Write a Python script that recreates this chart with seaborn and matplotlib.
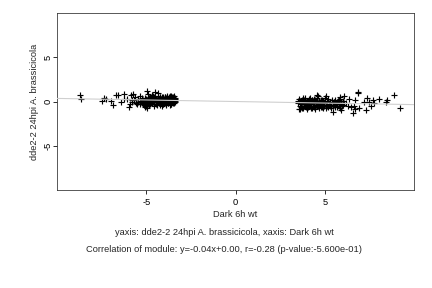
import matplotlib
matplotlib.use("Agg")
import matplotlib.pyplot as plt
import seaborn as sns
import pandas as pd

# ---- data ----
left_sparse_x = [-8.72, -8.67, -7.47, -7.36, -7.27, -6.99, -6.85, -6.69, -6.57, -6.42,
                 -6.25, -6.24, -6.10, -5.94, -5.88, -5.82, -5.96, -5.73, -5.69, -5.64,
                 -5.54, -5.49, -5.39, -5.36, -5.26, -5.17, -5.07, -4.96, -4.93, -4.98,
                 -4.79, -4.70, -4.51, -4.33, -4.42, -4.23, -4.14, -5.58, -5.80, -5.45]
left_sparse_y = [0.79, 0.26, 0.04, 0.38, 0.30, 0.04, -0.41, 0.75, 0.75, -0.11,
                 0.86, 0.34, 0.30, -0.30, 0.68, -0.04, -0.60, 0.83, 0.15, 0.53,
                 -0.30, 0.30, 0.64, 0.00, 0.41, -0.30, -0.64, 1.20, 0.90, -0.75,
                 0.53, 0.79, 1.05, 1.00, -0.23, 0.53, -0.45, -0.15, 0.20, -0.05]

left_dense_x = [-5.30, -5.25, -5.20, -5.15, -5.10, -5.05, -5.00, -4.95, -4.90, -4.88,
                -4.85, -4.80, -4.78, -4.75, -4.70, -4.68, -4.65, -4.60, -4.58, -4.55,
                -4.50, -4.48, -4.45, -4.40, -4.38, -4.35, -4.30, -4.28, -4.25, -4.20,
                -4.18, -4.15, -4.10, -4.08, -4.05, -4.00, -3.98, -3.95, -3.92, -3.90,
                -3.88, -3.85, -3.82, -3.80, -3.78, -3.75, -3.72, -3.70, -3.68, -3.65,
                -3.62, -3.60, -3.58, -3.55, -3.52, -3.50, -3.48, -3.46, -3.44, -3.42,
                -3.40, -3.40, -3.45, -3.55, -3.65, -3.75, -3.85, -3.95, -4.05, -4.15,
                -4.35, -4.55, -4.62, -3.60, -3.70, -3.90, -4.10, -4.25, -4.45, -4.60,
                -4.85, -5.00, -5.15, -5.35, -3.50, -3.80, -4.00, -4.70, -4.90, -5.10,
                -3.42, -3.58, -3.74, -3.90, -4.06, -4.22, -4.38, -4.54, -4.72, -4.95]
left_dense_y = [0.10, -0.15, 0.20, 0.05, -0.10, 0.25, 0.00, 0.15, -0.20, 0.35,
                0.05, -0.30, 0.20, 0.10, -0.15, 0.40, 0.00, 0.25, -0.25, 0.10,
                0.45, -0.05, 0.20, -0.35, 0.30, 0.05, 0.15, -0.20, 0.50, 0.00,
                0.25, -0.10, 0.35, 0.10, -0.30, 0.20, 0.55, -0.05, 0.30, 0.10,
                -0.25, 0.45, 0.05, 0.20, -0.15, 0.35, 0.00, 0.60, 0.15, -0.30,
                0.25, 0.05, 0.40, -0.10, 0.20, 0.50, 0.00, 0.30, -0.20, 0.10,
                0.45, -0.05, 0.60, 0.55, 0.60, 0.55, 0.60, 0.50, 0.55, 0.50,
                0.60, 0.55, 0.65, -0.25, -0.35, -0.40, -0.30, -0.40, -0.30, -0.45,
                -0.40, -0.45, -0.35, -0.25, -0.15, -0.20, -0.15, 0.30, 0.45, 0.35,
                0.25, 0.30, 0.20, 0.35, 0.40, 0.30, 0.20, 0.40, 0.05, -0.10]

right_sparse_x = [8.88, 9.25, 8.50, 8.41, 8.03, 7.72, 7.75, 7.62, 7.49, 7.38,
                  7.34, 7.19, 6.87, 6.84, 6.91, 6.69, 6.59, 6.72, 6.63, 6.35,
                  6.31, 6.07, 5.88, 5.92, 5.88, 5.97, 5.45, 5.69, 5.09, 4.57,
                  3.63, 6.20, 6.50, 5.80, 5.55]
right_sparse_y = [0.68, -0.75, 0.15, -0.08, 0.23, 0.15, -0.15, -0.45, -0.11, 0.41,
                  -0.98, -0.08, 1.13, 1.00, -0.71, -0.90, -1.28, 0.15, -0.53, 0.30,
                  -0.53, 0.60, 0.53, -0.98, -0.68, -0.41, -1.20, -0.08, 0.64, 0.75,
                  -0.90, -0.20, -0.60, 0.20, 0.10]

right_dense_x = [3.50, 3.55, 3.60, 3.62, 3.65, 3.70, 3.72, 3.75, 3.80, 3.82,
                 3.85, 3.90, 3.92, 3.95, 4.00, 4.02, 4.05, 4.10, 4.12, 4.15,
                 4.20, 4.22, 4.25, 4.30, 4.32, 4.35, 4.40, 4.42, 4.45, 4.50,
                 4.52, 4.55, 4.60, 4.62, 4.65, 4.70, 4.72, 4.75, 4.80, 4.82,
                 4.85, 4.90, 4.92, 4.95, 5.00, 5.05, 5.10, 5.15, 5.20, 5.25,
                 5.30, 5.35, 5.40, 5.45, 5.50, 5.55, 5.60, 5.65, 5.70, 5.75,
                 5.80, 5.85, 5.90, 5.95, 6.00, 6.05, 6.10, 3.55, 3.68, 3.78,
                 3.88, 3.98, 4.08, 4.18, 4.28, 4.38, 4.48, 4.58, 4.68, 4.78,
                 4.88, 4.98, 5.08, 5.18, 5.28, 5.38, 5.48, 5.58, 5.68, 5.78,
                 3.52, 3.64, 3.76, 3.86, 3.96, 4.06, 4.16, 4.26, 4.36, 4.46,
                 4.56, 4.66, 4.76, 4.86, 4.96, 5.12, 5.32, 5.52, 5.72, 5.92]
right_dense_y = [-0.20, 0.30, -0.50, 0.05, -0.30, 0.20, -0.70, -0.10, 0.35, -0.45,
                 0.00, -0.25, 0.40, -0.60, 0.10, -0.35, -0.15, 0.25, -0.55, -0.05,
                 0.45, -0.30, -0.70, 0.15, -0.20, -0.45, 0.30, -0.10, -0.60, 0.05,
                 -0.35, 0.40, -0.25, -0.50, 0.60, 0.00, -0.40, -0.15, 0.20, -0.65,
                 -0.30, 0.10, -0.50, -0.20, 0.35, -0.40, 0.00, -0.55, 0.25, -0.30,
                 -0.10, -0.45, 0.15, -0.35, -0.05, -0.60, 0.20, -0.25, -0.45, 0.10,
                 -0.30, 0.30, -0.15, -0.50, 0.05, -0.35, -0.20, -0.80, -0.60, -0.75,
                 -0.55, -0.80, -0.65, -0.50, -0.75, -0.60, -0.80, -0.55, -0.70, -0.60,
                 -0.75, -0.50, -0.70, -0.60, -0.45, -0.70, -0.55, -0.40, -0.65, -0.50,
                 0.10, 0.00, 0.05, 0.15, -0.05, 0.10, 0.00, 0.20, 0.05, 0.15,
                 -0.05, 0.10, 0.00, 0.15, -0.10, 0.05, 0.00, -0.10, 0.05, -0.15]

fit_slope = -0.035
fit_intercept = 0.0

x_ticks = [-5, 0, 5]
y_ticks = [-5, 0, 5]
x_label = "Dark 6h wt"
y_label = "dde2-2 24hpi A. brassicicola"
sub1 = "yaxis: dde2-2 24hpi A. brassicicola, xaxis: Dark 6h wt"
sub2 = "Correlation of module: y=-0.04x+0.00, r=-0.28 (p-value:-5.600e-01)"

# ---- build data frame ----
xs = left_sparse_x + left_dense_x + right_sparse_x + right_dense_x
ys = left_sparse_y + left_dense_y + right_sparse_y + right_dense_y
df = pd.DataFrame({"x": xs, "y": ys})

FS = 9.3
sns.set_style("white")
plt.rcParams["font.family"] = ["Liberation Sans", "DejaVu Sans"]
plt.rcParams["font.size"] = FS
plt.rcParams["axes.unicode_minus"] = False

fig = plt.figure(figsize=(6, 4), dpi=72)
ax = fig.add_axes([0.1327, 0.340, 0.958 - 0.1327, 0.955 - 0.340])

sns.scatterplot(data=df, x="x", y="y", marker="+", color="black", s=32,
                linewidth=1.15, ax=ax, zorder=2)
ax.axline((0, fit_intercept), slope=fit_slope, color="#cfcfcf", lw=1.1, zorder=3)

ax.set_xlim(-10, 10)
ax.set_ylim(-10, 10)
ax.set_xticks(x_ticks)
ax.set_yticks(y_ticks)
ax.set_yticklabels([str(v) for v in y_ticks], rotation=90, va="center")
ax.tick_params(direction="out", length=4, width=0.8, colors="black",
               labelsize=FS, bottom=True, left=True)
ax.tick_params(axis="x", pad=4)
ax.tick_params(axis="y", pad=0.5)
ax.set_xlabel("")
ax.set_ylabel("")
for sp in ax.spines.values():
    sp.set_visible(True)
    sp.set_color("#333333")
    sp.set_linewidth(0.8)

fig.text(235.3 / 432, 1 - 214.3 / 288, x_label, ha="center", va="center", fontsize=FS)
fig.text(34.3 / 432, 1 - 101.5 / 288, y_label, ha="center", va="center",
         rotation=90, fontsize=FS)
fig.text(224 / 432, 1 - 232.7 / 288, sub1, ha="center", va="center", fontsize=FS)
fig.text(224 / 432, 1 - 249.7 / 288, sub2, ha="center", va="center", fontsize=FS)

fig.savefig("out.png", dpi=72, facecolor="white")
